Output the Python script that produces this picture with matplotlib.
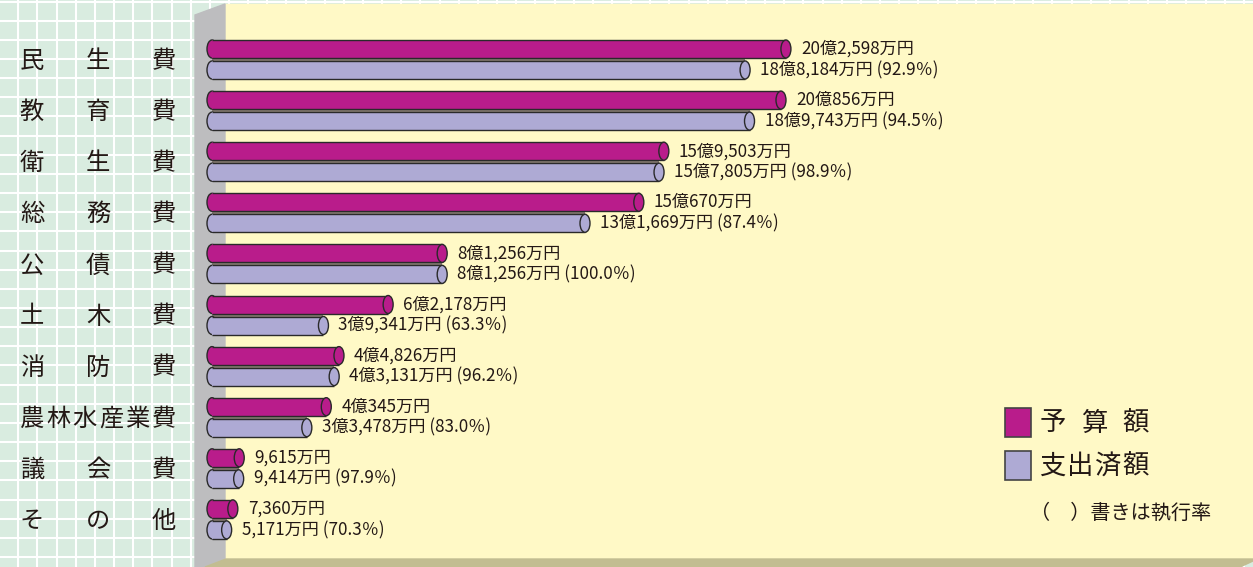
import matplotlib
matplotlib.use('Agg')
import matplotlib.pyplot as plt
from matplotlib.patches import Rectangle, Ellipse, Polygon
from matplotlib.transforms import blended_transform_factory
import numpy as np

plt.rcParams['font.family'] = ['Noto Sans CJK JP', 'DejaVu Sans']

# ---- data (万円) ----
categories = ['民生費', '教育費', '衛生費', '総務費', '公債費', '土木費',
              '消防費', '農林水産業費', '議会費', 'その他']
budget = [202598, 200856, 159503, 150670, 81256, 62178, 44826, 40345, 9615, 7360]
spent = [188184, 189743, 157805, 131669, 81256, 39341, 43131, 33478, 9414, 5171]
rate = [92.9, 94.5, 98.9, 87.4, 100.0, 63.3, 96.2, 83.0, 97.9, 70.3]
legend_labels = ['予算額', '支出済額']
note = '（　）書きは執行率'

C_BUDGET = '#b91c8b'
C_SPENT = '#aeaad4'
EDGE = '#2a2a2a'


def fmt(v):
    oku, man = divmod(v, 10000)
    s = f'{man:,}万円'
    return f'{oku}億{s}' if oku else s


W, H = 1253, 567
fig = plt.figure(figsize=(W / 100, H / 100), dpi=100)

# ---- background decoration (pixel coords) ----
bg = fig.add_axes([0, 0, 1, 1])
bg.set_xlim(0, W)
bg.set_ylim(H, 0)
bg.axis('off')
bg.add_patch(Rectangle((0, 0), W, H, color='#d9ece0', zorder=0))
for x in np.arange(18.3, W, 19.15):
    bg.plot([x, x], [0, H], color='white', lw=1.5, zorder=1)
for y in np.arange(1.6, H, 19.15):
    bg.plot([0, W], [y, y], color='white', lw=1.5, zorder=1)
bg.add_patch(Rectangle((225, 4), W - 225, 556, color='#fff9c6', zorder=2))
bg.add_patch(Polygon([(195, 15), (225, 4), (225, H), (195, H)], closed=True,
                     color='#bdbdbf', zorder=3))
bg.add_patch(Polygon([(205, H), (226, 559), (W, 559), (W, 561), (1240, H)],
                     closed=True, color='#c2bd91', zorder=3))

# ---- data axes ----
S = 353.0          # 万円 per pixel
X0 = 212.0         # pixel of zero
R = 51.1           # row pitch in pixels
YC0 = 59.5         # pixel of first row centre
ax = fig.add_axes([0, 0, 1, 1])
ax.patch.set_alpha(0)
ax.set_xlim(-X0 * S, (W - X0) * S)
ax.set_ylim((H - YC0) / R, -YC0 / R)
ax.axis('off')

bh = 18 / R
off = 10.5 / R
ew = 10 * S


def cylinder(v, yc, color):
    y0 = yc - bh / 2
    ax.add_patch(Ellipse((0, yc), ew, bh, facecolor=color, edgecolor=EDGE, lw=1.0, zorder=2))
    ax.add_patch(Rectangle((0, y0), v, bh, facecolor=color, edgecolor='none', zorder=3))
    ax.plot([0, v], [y0, y0], color=EDGE, lw=1.0, zorder=4, solid_capstyle='butt')
    ax.plot([0, v], [y0 + bh, y0 + bh], color=EDGE, lw=1.0, zorder=4, solid_capstyle='butt')
    ax.add_patch(Ellipse((v, yc), ew, bh, facecolor=color, edgecolor=EDGE, lw=1.0, zorder=5))


FS = 12.3
for i, (b, s, r) in enumerate(zip(budget, spent, rate)):
    # shadow strip between the two cylinders
    ax.add_patch(Rectangle((0, i - off + bh / 2), min(b, s), 2 * off - bh,
                           facecolor='#857c72', edgecolor='none', zorder=1.5))
    cylinder(b, i - off, C_BUDGET)
    cylinder(s, i + off, C_SPENT)
    ax.text(b + 15 * S, i - off, fmt(b), fontsize=FS, va='center', ha='left',
            color='#231815', zorder=6)
    ax.text(s + 15 * S, i + off, f'{fmt(s)} ({r:.1f}％)', fontsize=FS, va='center',
            ha='left', color='#231815', zorder=6)

# ---- category labels (justified across label column) ----
tr = blended_transform_factory(bg.transData, ax.transData)
for i, cat in enumerate(categories):
    n = len(cat)
    xs = np.linspace(32, 164, n)
    for ch, x in zip(cat, xs):
        ax.text(x, i + 0.03, ch, transform=tr, fontsize=17.5, ha='center', va='center',
                color='#231815', zorder=6)

# ---- legend ----
for k, (lab, col) in enumerate(zip(legend_labels, [C_BUDGET, C_SPENT])):
    y = 408 + k * 43
    bg.add_patch(Rectangle((1005, y), 26, 29, facecolor=col, edgecolor='#444444',
                           lw=1.2, zorder=6))
    xs = np.linspace(1053, 1136, len(lab))
    for ch, x in zip(lab, xs):
        bg.text(x, y + 15, ch, fontsize=19, ha='center', va='center', color='#231815', zorder=7)
bg.text(1030, 513, note, fontsize=14.5, ha='left', va='center', color='#231815', zorder=7)

fig.savefig('out.png', dpi=100)
